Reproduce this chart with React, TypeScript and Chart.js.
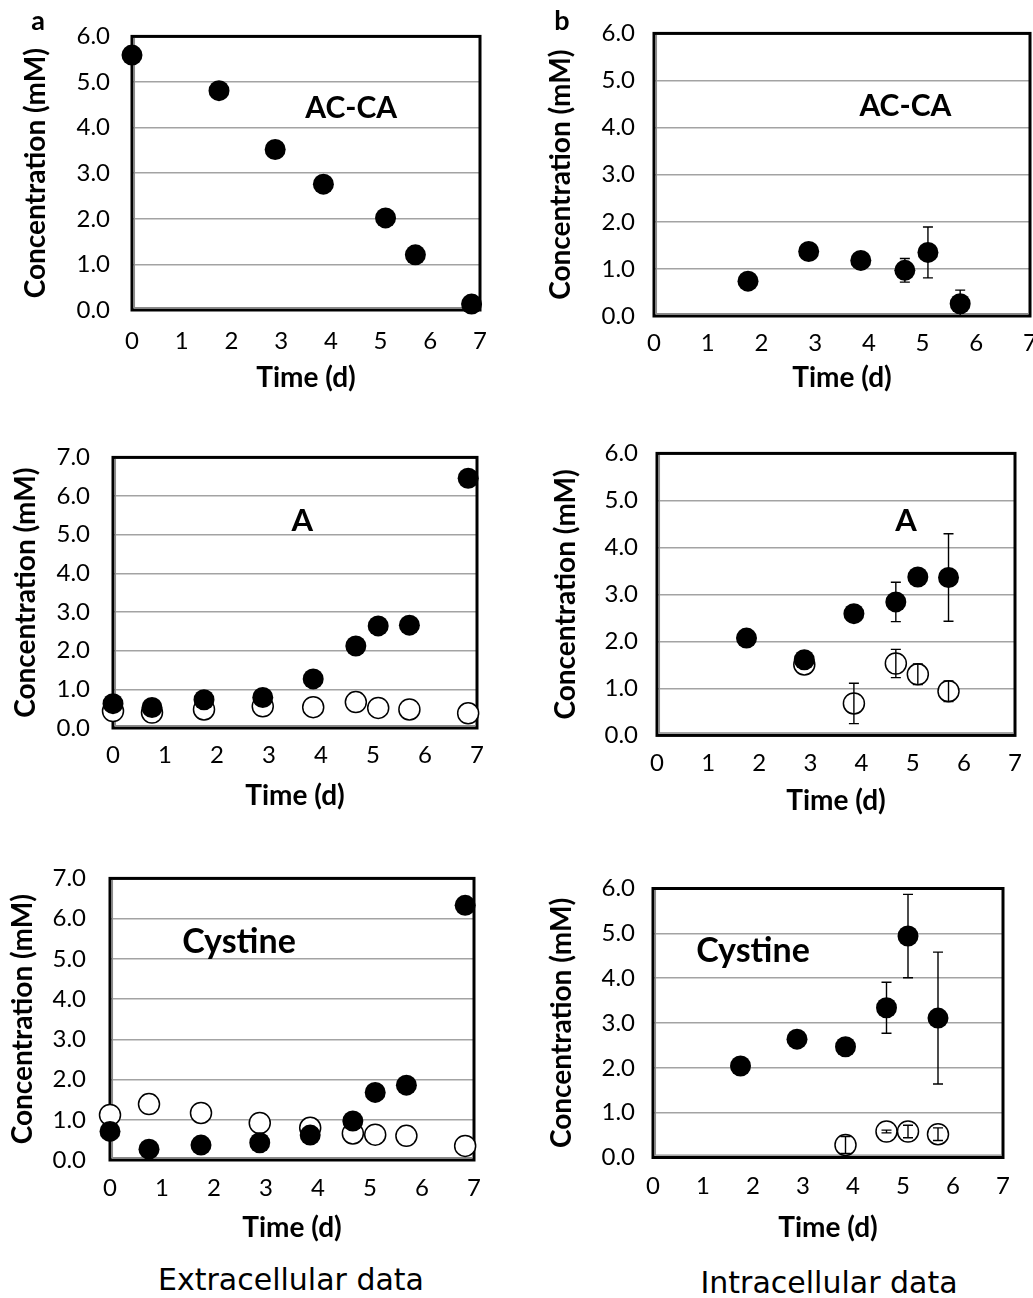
import React, { useEffect, useRef } from "react";
import { Chart, registerables } from "chart.js";

Chart.register(...registerables);

// ---------- data ----------
const xTickValues = [0, 1, 2, 3, 4, 5, 6, 7];
const xTickLabels = ["0", "1", "2", "3", "4", "5", "6", "7"];
const yTickValues6 = [0, 1, 2, 3, 4, 5, 6];
const yTickLabels6 = ["0.0", "1.0", "2.0", "3.0", "4.0", "5.0", "6.0"];
const yTickValues7 = [0, 1, 2, 3, 4, 5, 6, 7];
const yTickLabels7 = ["0.0", "1.0", "2.0", "3.0", "4.0", "5.0", "6.0", "7.0"];

// extracellular (days)
const extTimes = [0, 0.75, 1.75, 2.88, 3.85, 4.67, 5.1, 5.7, 6.83];
const extAccaTimes = [0, 1.75, 2.88, 3.85, 5.1, 5.7, 6.83];
const extAccaValues = [5.59, 4.81, 3.52, 2.76, 2.02, 1.21, 0.13];
const extAFilled = [0.63, 0.53, 0.73, 0.79, 1.27, 2.12, 2.64, 2.66, 6.46];
const extAOpen = [0.44, 0.4, 0.48, 0.56, 0.54, 0.67, 0.52, 0.48, 0.38];
const extCysFilled = [0.71, 0.27, 0.37, 0.43, 0.62, 0.97, 1.68, 1.86, 6.33];
const extCysOpen = [1.12, 1.39, 1.17, 0.92, 0.8, 0.66, 0.63, 0.6, 0.35];

// intracellular (days)
const intTimes = [1.75, 2.88, 3.85, 4.67, 5.1, 5.7];
const intAccaValues = [0.74, 1.37, 1.18, 0.97, 1.35, 0.26];
const intAccaErr = [0, 0, 0, 0.25, 0.54, 0.29];
const intAFilled = [2.07, 1.61, 2.59, 2.84, 3.37, 3.36];
const intAFilledErr = [0, 0, 0, 0.42, 0, 0.93];
const intAOpenTimes = [2.88, 3.85, 4.67, 5.1, 5.7];
const intAOpen = [1.51, 0.68, 1.53, 1.3, 0.94];
const intAOpenErr = [0, 0.43, 0.3, 0.22, 0.22];
const intCysFilled = [2.04, 2.64, 2.47, 3.34, 4.94, 3.11];
const intCysFilledErr = [0, 0, 0, 0.57, 0.93, 1.47];
const intCysOpenTimes = [3.85, 4.67, 5.1, 5.7];
const intCysOpen = [0.28, 0.58, 0.58, 0.52];
const intCysOpenErr = [0.19, 0.03, 0.14, 0.14];

// ---------- layout ----------
type Series = { x: number[]; y: number[]; err?: number[]; filled: boolean };
type Panel = {
  canvas: [number, number, number, number];
  plot: [number, number, number, number];
  yMax: number;
  yVals: number[];
  yLabels: string[];
  yTitleX: number;
  yTickGap: number;
  xTickOffset: number;
  xTitleOffset: number;
  label: string;
  labelPos: [number, number];
  labelSize: number;
  series: Series[];
};

const panels: Panel[] = [
  {
    canvas: [0, 0, 518, 410], plot: [132, 33, 480, 310], yMax: 6,
    yVals: yTickValues6, yLabels: yTickLabels6,
    yTitleX: 36, yTickGap: 22, xTickOffset: 31, xTitleOffset: 68,
    label: "AC-CA", labelPos: [4.41, 4.42], labelSize: 30,
    series: [{ x: extAccaTimes, y: extAccaValues, filled: true }],
  },
  {
    canvas: [520, 0, 530, 410], plot: [654, 27, 1030, 316], yMax: 6,
    yVals: yTickValues6, yLabels: yTickLabels6,
    yTitleX: 561, yTickGap: 19, xTickOffset: 27, xTitleOffset: 62,
    label: "AC-CA", labelPos: [4.68, 4.45], labelSize: 30,
    series: [{ x: intTimes, y: intAccaValues, err: intAccaErr, filled: true }],
  },
  {
    canvas: [0, 420, 518, 410], plot: [113, 447, 477, 728], yMax: 7,
    yVals: yTickValues7, yLabels: yTickLabels7,
    yTitleX: 26, yTickGap: 23, xTickOffset: 27, xTitleOffset: 68,
    label: "A", labelPos: [3.64, 5.35], labelSize: 31,
    series: [
      { x: extTimes, y: extAFilled, filled: true },
      { x: extTimes, y: extAOpen, filled: false },
    ],
  },
  {
    canvas: [520, 420, 530, 410], plot: [657, 449.5, 1015, 735.4], yMax: 6,
    yVals: yTickValues6, yLabels: yTickLabels6,
    yTitleX: 566, yTickGap: 19, xTickOffset: 28, xTitleOffset: 66,
    label: "A", labelPos: [4.87, 4.57], labelSize: 31,
    series: [
      { x: intTimes, y: intAFilled, err: intAFilledErr, filled: true },
      { x: intAOpenTimes, y: intAOpen, err: intAOpenErr, filled: false },
    ],
  },
  {
    canvas: [0, 840, 518, 410], plot: [110, 874.5, 474, 1160], yMax: 7,
    yVals: yTickValues7, yLabels: yTickLabels7,
    yTitleX: 22.5, yTickGap: 24, xTickOffset: 28, xTitleOffset: 68,
    label: "Cystine", labelPos: [2.48, 5.42], labelSize: 34,
    series: [
      { x: extTimes, y: extCysFilled, filled: true },
      { x: extTimes, y: extCysOpen, filled: false },
    ],
  },
  {
    canvas: [520, 840, 530, 410], plot: [653, 888.5, 1003, 1157.5], yMax: 6,
    yVals: yTickValues6, yLabels: yTickLabels6,
    yTitleX: 562, yTickGap: 18, xTickOffset: 29, xTitleOffset: 70,
    label: "Cystine", labelPos: [2.0, 4.6], labelSize: 34,
    series: [
      { x: intTimes, y: intCysFilled, err: intCysFilledErr, filled: true },
      { x: intCysOpenTimes, y: intCysOpen, err: intCysOpenErr, filled: false },
    ],
  },
];

const FONT = "Lato, 'Open Sans', sans-serif";
const TITLE_SIZE = 28;
const TICK_SIZE = 24;

function PanelChart({ p }: { p: Panel }) {
  const ref = useRef<HTMLCanvasElement>(null);
  useEffect(() => {
    const canvas = ref.current;
    if (!canvas) return;
    const [cx, cy, cw, ch] = p.canvas;
    const [pl, pt, pr, pb] = p.plot;
    const yW = pl - cx;
    const xH = cy + ch - pb;
    const padTop = pt - cy;
    const padRight = cx + cw - pr;
    const tLH = TITLE_SIZE * 1.2;
    const kLH = TICK_SIZE * 1.2;
    const yTitlePad = p.yTitleX - cx - tLH / 2;
    const xTickPad = p.xTickOffset - kLH / 2;
    const xTitlePad = xH - p.xTitleOffset - tLH / 2;

    const datasets = p.series.map((s) => ({
      data: s.x.map((x, i) => ({ x, y: s.y[i] })),
      pointRadius: 10.5,
      pointHoverRadius: 10.5,
      pointBackgroundColor: s.filled ? "#000000" : "#ffffff",
      pointBorderColor: "#000000",
      pointBorderWidth: s.filled ? 0 : 1.5,
      showLine: false,
      clip: false as any,
    }));

    const decor = {
      id: "decor",
      beforeDatasetsDraw(chart: any) {
        const { ctx, chartArea: a } = chart;
        ctx.save();
        ctx.strokeStyle = "#000000";
        ctx.lineWidth = 3;
        ctx.strokeRect(a.left, a.top, a.right - a.left, a.bottom - a.top);
        ctx.strokeStyle = "#8a8a8a";
        ctx.lineWidth = 1.3;
        ctx.beginPath();
        ctx.moveTo(a.left + 2.4, a.top + 1.5);
        ctx.lineTo(a.left + 2.4, a.bottom - 2.4);
        ctx.lineTo(a.right - 1.5, a.bottom - 2.4);
        ctx.stroke();
        ctx.restore();
      },
      afterDatasetsDraw(chart: any) {
        const { ctx } = chart;
        const xs = chart.scales.x;
        const ys = chart.scales.y;
        ctx.save();
        ctx.strokeStyle = "#000000";
        ctx.lineWidth = 1.4;
        p.series.forEach((s) => {
          if (!s.err) return;
          s.x.forEach((x, i) => {
            const e = s.err![i];
            if (!e) return;
            const px = xs.getPixelForValue(x);
            const y1 = ys.getPixelForValue(s.y[i] + e);
            const y0 = ys.getPixelForValue(Math.max(0, s.y[i] - e));
            ctx.beginPath();
            ctx.moveTo(px, y1);
            ctx.lineTo(px, y0);
            ctx.moveTo(px - 5, y1);
            ctx.lineTo(px + 5, y1);
            if (s.y[i] - e > 0) {
              ctx.moveTo(px - 5, y0);
              ctx.lineTo(px + 5, y0);
            }
            ctx.stroke();
          });
        });
        ctx.fillStyle = "#000000";
        ctx.font = `bold ${p.labelSize}px ${FONT}`;
        ctx.textAlign = "center";
        ctx.textBaseline = "middle";
        ctx.fillText(p.label, xs.getPixelForValue(p.labelPos[0]), ys.getPixelForValue(p.labelPos[1]));
        ctx.restore();
      },
    };

    const chart = new Chart(canvas, {
      type: "scatter",
      data: { datasets: datasets as any },
      options: {
        responsive: false,
        animation: false,
        devicePixelRatio: 1,
        events: [],
        layout: { padding: { left: 0, top: padTop, right: padRight, bottom: 0 } },
        plugins: { legend: { display: false }, tooltip: { enabled: false } },
        scales: {
          x: {
            type: "linear",
            min: 0,
            max: 7,
            afterBuildTicks: (s: any) => {
              s.ticks = xTickValues.map((v) => ({ value: v }));
            },
            afterFit: (s: any) => {
              s.height = xH;
            },
            grid: { display: false, drawTicks: false },
            border: { display: false },
            ticks: {
              autoSkip: false,
              maxRotation: 0,
              padding: xTickPad,
              color: "#000000",
              font: { family: FONT, size: TICK_SIZE },
              callback: (_v: any, i: number) => xTickLabels[i],
            },
            title: {
              display: true,
              text: "Time (d)",
              color: "#000000",
              font: { family: FONT, size: TITLE_SIZE, weight: "bold" },
              padding: { top: 0, bottom: xTitlePad },
            },
          },
          y: {
            type: "linear",
            min: 0,
            max: p.yMax,
            afterBuildTicks: (s: any) => {
              s.ticks = p.yVals.map((v) => ({ value: v }));
            },
            afterFit: (s: any) => {
              s.width = yW;
            },
            grid: { color: "#a3a3a3", lineWidth: 1.5, drawTicks: false },
            border: { display: false },
            ticks: {
              padding: p.yTickGap,
              color: "#000000",
              font: { family: FONT, size: TICK_SIZE },
              callback: (_v: any, i: number) => p.yLabels[i],
            },
            title: {
              display: true,
              text: "Concentration (mM)",
              color: "#000000",
              font: { family: FONT, size: TITLE_SIZE, weight: "bold" },
              padding: { top: yTitlePad, bottom: 0 },
            },
          },
        },
      },
      plugins: [decor],
    });
    return () => chart.destroy();
  }, [p]);

  const [cx, cy, cw, ch] = p.canvas;
  return (
    <canvas
      ref={ref}
      width={cw}
      height={ch}
      style={{ position: "absolute", left: cx, top: cy, width: cw, height: ch }}
    />
  );
}

const textStyle = (x: number, y: number, size: number, family: string, weight: string): React.CSSProperties => ({
  position: "absolute",
  left: x,
  top: y,
  transform: "translate(-50%, -50%)",
  fontFamily: family,
  fontSize: size,
  fontWeight: weight as any,
  lineHeight: 1,
  whiteSpace: "nowrap",
  color: "#000",
});

export default function App() {
  return (
    <div
      style={{
        position: "absolute",
        left: 0,
        top: 0,
        width: 1033,
        height: 1298,
        overflow: "hidden",
        background: "#ffffff",
      }}
    >
      {panels.map((p, i) => (
        <PanelChart key={i} p={p} />
      ))}
      <div style={textStyle(38, 18.5, 27, FONT, "bold")}>a</div>
      <div style={textStyle(562, 18.5, 27, FONT, "bold")}>b</div>
      <div style={textStyle(291, 1280, 30, "'DejaVu Sans', sans-serif", "normal")}>Extracellular data</div>
      <div style={textStyle(829, 1283, 30, "'DejaVu Sans', sans-serif", "normal")}>Intracellular data</div>
    </div>
  );
}
